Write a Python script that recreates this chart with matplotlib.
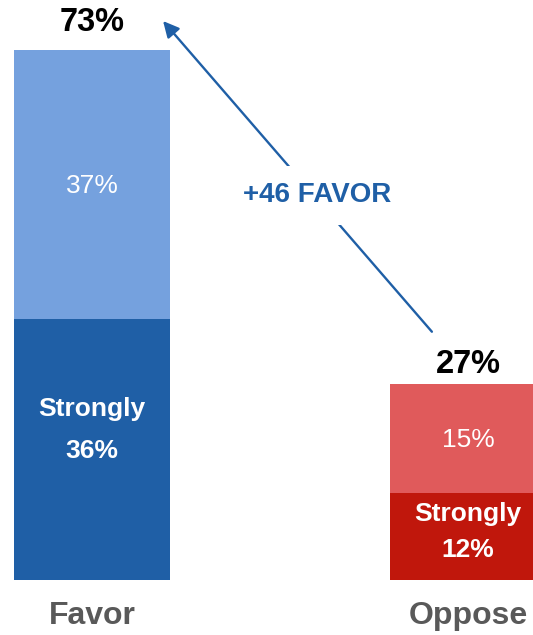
import matplotlib
matplotlib.use("Agg")
import matplotlib.pyplot as plt

plt.rcParams['font.family'] = ['Liberation Sans', 'DejaVu Sans']

categories = ["Favor", "Oppose"]
strongly = [36, 12]
somewhat = [37, 15]
totals = [73, 27]
diff_label = "+46 FAVOR"

dark_colors = ["#1F5FA6", "#C0170C"]
light_colors = ["#75A1DE", "#E05A5B"]

fig = plt.figure(figsize=(5.33, 6.35), dpi=100)
ax = fig.add_axes([0, 0, 1, 1])
ax.set_xlim(-0.2447, 1.1729)
ax.set_ylim(-7.58, 79.9)
ax.axis('off')

x = [0, 1]
w = 0.415
for i in range(2):
    ax.bar(x[i], strongly[i], width=w, color=dark_colors[i], edgecolor='none')
    ax.bar(x[i], somewhat[i], bottom=strongly[i], width=w, color=light_colors[i], edgecolor='none')

# labels on light sections
for i in range(2):
    ax.annotate(f"{somewhat[i]}%", (x[i], strongly[i] + somewhat[i] / 2), xytext=(0, -2 * 0.72),
                textcoords='offset points', ha='center', va='center',
                color='white', fontsize=19)

# strongly labels
val_offsets = [-2, -14]
word_offsets = [42, 36]
for i in range(2):
    mid = strongly[i] / 2
    ax.annotate(f"{strongly[i]}%", (x[i], mid), xytext=(0, val_offsets[i] * 0.72),
                textcoords='offset points', ha='center', va='center', color='white',
                fontsize=19, fontweight='bold')
    ax.annotate("Strongly", (x[i], mid), xytext=(0, (val_offsets[i] + word_offsets[i]) * 0.72),
                textcoords='offset points', ha='center', va='center', color='white',
                fontsize=19, fontweight='bold')

# totals
tot_offsets = [28, 19]
for i in range(2):
    ax.annotate(f"{totals[i]}%", (x[i], totals[i]), xytext=(0, tot_offsets[i] * 0.72),
                textcoords='offset points', ha='center', va='center', color='black',
                fontsize=23.5, fontweight='bold')

# category labels
for i in range(2):
    ax.annotate(categories[i], (x[i], 0), xytext=(0, -36 * 0.72), textcoords='offset points',
                ha='center', va='center', color='#595959', fontsize=23, fontweight='bold')

# arrow
ax.annotate("", xy=(0.189, 77.0), xytext=(0.904, 34.2),
            arrowprops=dict(arrowstyle='-|>', color='#1F5FA6', lw=1.7, mutation_scale=24,
                            shrinkA=0, shrinkB=0))
ax.text(0.598, 53.0, diff_label, ha='center', va='center', color='#1F5FA6', fontsize=20,
        fontweight='bold', bbox=dict(boxstyle='square,pad=0.6', fc='white', ec='none'))

fig.savefig("out.png", dpi=100)
